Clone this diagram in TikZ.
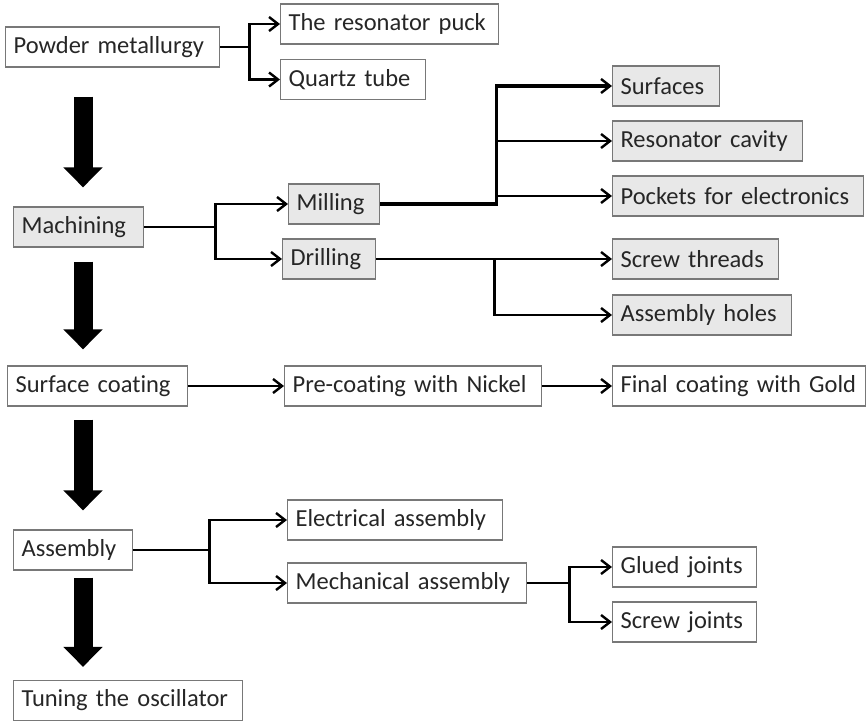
\documentclass[tikz,border=0pt]{standalone}
\usepackage{fontspec}
\setmainfont{Carlito}[Ligatures=CommonOff]
\usetikzlibrary{arrows.meta}

\definecolor{boxline}{RGB}{120,120,120}
\definecolor{boxfill}{RGB}{232,232,232}

\tikzset{
  box/.style={draw=boxline, line width=1.2pt, inner xsep=8pt, inner ysep=0pt, minimum height=40pt, anchor=west, align=left, text=black!85, font=\fontsize{24.5}{27}\selectfont},
  greybox/.style={box, fill=boxfill},
  link/.style={line width=2.6pt, -{Straight Barb[length=9pt,width=14pt,line width=2.4pt]}},
  bigarrow/.style={line width=19pt, -{Triangle[length=20pt,width=38pt]}}
}

\begin{document}
\begin{tikzpicture}[x=1pt,y=-1pt]
\useasboundingbox (0,0) rectangle (866,722);

% left column
\node[box,text width=198pt] (pm) at (5,47) {Powder metallurgy};
\node[greybox,text width=114pt] (mach) at (13,227) {Machining};
\node[box,text width=164pt] (coat) at (7,386) {Surface coating};
\node[box,text width=103pt] (asm) at (13,550) {Assembly};
\node[box,text width=213pt] (tune) at (13,700.5) {Tuning the oscillator};

% powder metallurgy branch
\node[box,text width=202pt] (puck) at (280,24) {The resonator puck};
\node[box,text width=129pt] (quartz) at (280,79.5) {Quartz tube};

% machining branch
\node[greybox,text width=75pt] (mill) at (288,204) {Milling};
\node[greybox,text width=77pt] (drill) at (282,259) {Drilling};
\node[greybox,text width=91pt] (surf) at (612,86) {Surfaces};
\node[greybox,text width=174pt] (cav) at (612,141) {Resonator cavity};
\node[greybox,text width=235pt] (pock) at (612,196) {Pockets for electronics};
\node[greybox,text width=150pt] (thread) at (612,259) {Screw threads};
\node[greybox,text width=163pt] (holes) at (612,315) {Assembly holes};

% coating chain
\node[box,text width=241pt] (nickel) at (284,386) {Pre-coating with Nickel};
\node[box,text width=237pt] (gold) at (612,386) {Final coating with Gold};

% assembly branch
\node[box,text width=199pt] (elec) at (287,520) {Electrical assembly};
\node[box,text width=223pt] (mech) at (287,583) {Mechanical assembly};
\node[box,text width=128pt] (glue) at (612,567) {Glued joints};
\node[box,text width=128pt] (screw) at (612,622) {Screw joints};

% main flow
\coordinate (spine) at (83,0);
\draw[bigarrow,shorten <=29pt,shorten >=19pt] (pm.south -| spine) -- (mach.north -| spine);
\draw[bigarrow,shorten <=14pt,shorten >=16pt] (mach.south -| spine) -- (coat.north -| spine);
\draw[bigarrow,shorten <=13pt,shorten >=19pt] (coat.south -| spine) -- (asm.north -| spine);
\draw[bigarrow,shorten <=7pt,shorten >=13pt] (asm.south -| spine) -- (tune.north -| spine);

% branches
\draw[link] (pm.east) -- ++(29,0) |- (puck.west);
\draw[link] (pm.east) -- ++(29,0) |- (quartz.west);
\draw[link] (mach.east) -- ++(71,0) |- (mill.west);
\draw[link] (mach.east) -- ++(71,0) |- (drill.west);
\draw[link,line width=3.4pt] (mill.east) -- ++(116,0) |- (surf.west);
\draw[link] (mill.east) ++(116,0) |- (cav.west);
\draw[link] (mill.east) ++(116,0) |- (pock.west);
\draw[link] (drill.east) -- ++(118,0) |- (thread.west);
\draw[link] (drill.east) ++(118,0) |- (holes.west);
\draw[link] (coat.east) -- (nickel.west);
\draw[link] (nickel.east) -- (gold.west);
\draw[link] (asm.east) -- ++(76,0) |- (elec.west);
\draw[link] (asm.east) -- ++(76,0) |- (mech.west);
\draw[link] (mech.east) -- ++(42,0) |- (glue.west);
\draw[link] (mech.east) -- ++(42,0) |- (screw.west);

\end{tikzpicture}
\end{document}
